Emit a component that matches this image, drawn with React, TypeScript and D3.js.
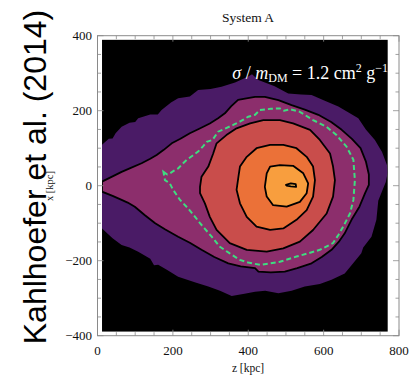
import React from "react";
import * as d3 from "d3";

type P = [number, number];

const xMajorTicks = [0, 200, 400, 600, 800];
const yMajorTicks = [-400, -200, 0, 200, 400];
const minorStep = 50;
const dataExtentZ: P = [12, 770];
const dataExtentX: P = [-389, 389];

const outerContour: P[] = [
  [12, 109], [30, 125], [40, 126], [48, 140], [64, 157], [85, 168], [100, 170], [108, 180], [140, 190],
  [160, 190], [170, 202], [195, 222], [214, 233], [245, 238], [267, 255], [300, 258], [329, 264],
  [365, 275], [400, 291], [410, 297], [427, 282], [470, 265], [506, 246], [540, 243], [568, 242],
  [600, 228], [639, 211], [665, 196], [692, 180], [712, 150], [736, 122], [755, 90], [768, 55],
  [770, 35], [765, 10], [755, -15], [745, -40], [740, -91], [727, -136], [705, -165], [700, -180],
  [680, -205], [656, -234], [621, -251], [590, -262], [550, -269], [515, -280], [480, -287],
  [445, -280], [418, -283], [390, -288], [356, -294], [325, -280], [294, -269], [260, -258],
  [214, -243], [185, -225], [161, -211], [150, -212], [140, -195], [108, -176], [85, -165],
  [64, -158], [40, -140], [12, -114],
];

const level2Contour: P[] = [
  [12, 11], [40, 25], [64, 37], [90, 48], [117, 60], [140, 72], [157, 82], [175, 95], [197, 113],
  [220, 125], [245, 140], [270, 152], [298, 166], [320, 180], [338, 193], [355, 212], [373, 229],
  [395, 233], [418, 237], [444, 237], [480, 228], [515, 215], [550, 203], [586, 189], [620, 170],
  [648, 149], [675, 125], [698, 100], [712, 65], [720, 30], [720, 2], [710, -20], [695, -56],
  [674, -91], [656, -127], [640, -150], [621, -171], [595, -190], [568, -207], [530, -220],
  [497, -229], [460, -231], [427, -229], [418, -220], [380, -215], [347, -207], [310, -190],
  [276, -171], [245, -152], [214, -136], [180, -117], [153, -100], [125, -78], [99, -56],
  [80, -45], [64, -38], [40, -27], [12, -16],
];

const greenContour: P[] = [
  [175, 37], [185, 30], [192, 33], [203, 40], [214, 46], [225, 58], [237, 69], [252, 80], [267, 91],
  [280, 105], [290, 117], [305, 122], [320, 144], [340, 153], [360, 162], [380, 172], [400, 184],
  [418, 189], [431, 202], [460, 205], [484, 206], [495, 200], [511, 204], [537, 197], [572, 175],
  [608, 157], [634, 135], [661, 104], [679, 69], [681, 40], [683, 15], [679, -38], [670, -74],
  [652, -109], [640, -130], [625, -153], [590, -171], [560, -180], [528, -189], [484, -203],
  [431, -211], [400, -205], [378, -198], [350, -180], [325, -163], [303, -136], [285, -115],
  [272, -100], [259, -83], [240, -60], [219, -38], [200, -10], [192, 6], [179, 15], [175, 37],
];

const level3Contour: P[] = [
  [272, -3], [276, 24], [294, 51], [307, 86], [316, 113], [342, 135], [369, 153], [405, 166],
  [440, 175], [484, 175], [519, 166], [564, 149], [590, 122], [617, 86], [625, 51], [630, 15],
  [625, -29], [608, -74], [572, -118], [537, -149], [493, -167], [449, -176], [396, -171],
  [351, -153], [316, -118], [298, -83], [285, -47], [272, -20],
];

const level4Contour: P[] = [
  [374, 24], [378, 51], [396, 77], [422, 100], [458, 109], [493, 109], [528, 100], [555, 77],
  [572, 51], [577, 15], [572, -29], [555, -65], [528, -91], [493, -114], [458, -118], [422, -109],
  [396, -83], [378, -47], [369, -11],
];

const level5Contour: P[] = [
  [449, 33], [458, 51], [484, 55], [519, 53], [546, 33], [559, 6], [555, -20], [537, -43],
  [502, -56], [466, -52], [449, -29], [444, -3],
];

const level6Contour: P[] = [
  [500, 2], [513, 6], [526, 4], [527, -3], [513, -2], [502, 0],
];

const fillColors = ["#4a1b66", "#8c2e6c", "#c94d4b", "#eb7138", "#f89e3e", "#fbb54a"];

export default function App() {
  const W = 410;
  const H = 378;
  const x = d3.scaleLinear().domain([0, 800]).range([97.5, 399]);
  const y = d3.scaleLinear().domain([-400, 400]).range([335.7, 35.7]);
  const line = d3
    .line<P>()
    .x((d) => x(d[0]))
    .y((d) => y(d[1]))
    .curve(d3.curveLinearClosed);

  const levels = [outerContour, level2Contour, level3Contour, level4Contour, level5Contour, level6Contour];
  const minorX = d3.range(0, 801, minorStep);
  const minorY = d3.range(-400, 401, minorStep);
  const [x0, x1] = x.range();
  const [yb, yt] = y.range();
  const tickColor = "#8a8a8a";
  const serif = "'Liberation Serif', 'Times New Roman', serif";

  return (
    <svg width={W} height={H} style={{ position: "absolute", left: 0, top: 0 }} xmlns="http://www.w3.org/2000/svg">
      <rect x={0} y={0} width={W} height={H} fill="#fff" />
      <defs>
        <clipPath id="dataClip">
          <rect
            x={x(dataExtentZ[0])}
            y={y(dataExtentX[1])}
            width={x(dataExtentZ[1]) - x(dataExtentZ[0])}
            height={y(dataExtentX[0]) - y(dataExtentX[1])}
          />
        </clipPath>
      </defs>
      <rect
        x={x(dataExtentZ[0])}
        y={y(dataExtentX[1])}
        width={x(dataExtentZ[1]) - x(dataExtentZ[0])}
        height={y(dataExtentX[0]) - y(dataExtentX[1])}
        fill="#000"
      />
      <g clipPath="url(#dataClip)">
        {levels.map((pts, i) => (
          <path key={"f" + i} d={line(pts) || ""} fill={fillColors[i]} stroke="none" />
        ))}
        {levels.slice(1).map((pts, i) => (
          <path key={"s" + i} d={line(pts) || ""} fill="none" stroke="#000" strokeWidth={1.8} strokeLinejoin="round" />
        ))}
        <path d={line(greenContour) || ""} fill="none" stroke="#3fdc80" strokeWidth={2} strokeDasharray="5,3" />
      </g>

      {/* frame */}
      <rect x={x0} y={yt} width={x1 - x0} height={yb - yt} fill="none" stroke={tickColor} strokeWidth={1} />
      {minorX.map((v) => {
        const L = xMajorTicks.includes(v) ? 6 : 3.5;
        return (
          <g key={"tx" + v}>
            <line x1={x(v)} x2={x(v)} y1={yb} y2={yb - L} stroke={tickColor} strokeWidth={0.8} />
            <line x1={x(v)} x2={x(v)} y1={yt} y2={yt + L} stroke={tickColor} strokeWidth={0.8} />
          </g>
        );
      })}
      {minorY.map((v) => {
        const L = yMajorTicks.includes(v) ? 6 : 3.5;
        return (
          <g key={"ty" + v}>
            <line x1={x0} x2={x0 + L} y1={y(v)} y2={y(v)} stroke={tickColor} strokeWidth={0.8} />
            <line x1={x1} x2={x1 - L} y1={y(v)} y2={y(v)} stroke={tickColor} strokeWidth={0.8} />
          </g>
        );
      })}
      {xMajorTicks.map((v) => (
        <text key={"lx" + v} x={x(v)} y={355} textAnchor="middle" fontFamily={serif} fontSize={13} fill="#111">
          {v}
        </text>
      ))}
      {yMajorTicks.map((v) => (
        <text key={"ly" + v} x={92} y={y(v) + 4.5} textAnchor="end" fontFamily={serif} fontSize={13} fill="#111">
          {v < 0 ? "\u2212" + Math.abs(v) : v}
        </text>
      ))}
      <text x={248} y={372} textAnchor="middle" fontFamily={serif} fontSize={11.5} fill="#111">
        z [kpc]
      </text>
      <text
        transform={`translate(53,186) rotate(-90)`}
        textAnchor="middle"
        fontFamily={serif}
        fontSize={10.5}
        fill="#111"
      >
        x [kpc]
      </text>
      <text x={248} y={22} textAnchor="middle" fontFamily={serif} fontSize={13.5} fill="#111">
        System A
      </text>
      <text x={388} y={79} textAnchor="end" fontFamily={serif} fontSize={18} fill="#fff">
        <tspan fontStyle="italic">σ</tspan>
        <tspan> / </tspan>
        <tspan fontStyle="italic">m</tspan>
        <tspan fontSize={12} dy={3}>DM</tspan>
        <tspan dy={-3}> = 1.2 cm</tspan>
        <tspan fontSize={12} dy={-7}>2</tspan>
        <tspan dy={7}> g</tspan>
        <tspan fontSize={12} dy={-7}>−1</tspan>
      </text>
      <text
        transform={`translate(46,177) rotate(-90)`}
        textAnchor="middle"
        fontFamily="'Liberation Sans', Arial, sans-serif"
        fontSize={32}
        fill="#000"
      >
        Kahlhoefer et al. (2014)
      </text>
    </svg>
  );
}
